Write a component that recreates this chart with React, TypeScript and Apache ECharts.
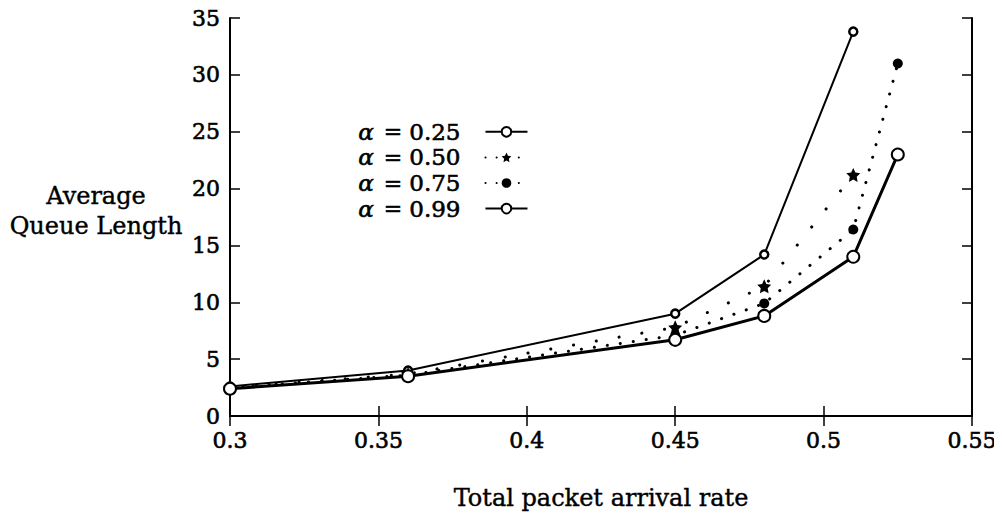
import React, { useEffect, useRef } from "react";
import * as echarts from "echarts";

const xRates = [0.3, 0.36, 0.45, 0.48, 0.51, 0.525];
const alpha025 = [2.6, 4.0, 9.0, 14.2, 33.8];
const alpha050 = [2.5, 3.7, 7.8, 11.4, 21.2];
const alpha075 = [2.5, 3.6, 7.1, 9.9, 16.4, 31.0];
const alpha099 = [2.4, 3.5, 6.7, 8.8, 14.0, 23.0];
const seriesNames = ["0.25", "0.50", "0.75", "0.99"];
const xTicks = [0.3, 0.35, 0.4, 0.45, 0.5, 0.55];
const yTicks = [0, 5, 10, 15, 20, 25, 30, 35];
const yNameLines = ["Average", "Queue Length"];

const FONT = "DejaVu Serif";
const STAR =
  "path://M0,-10 L2.9,-4 L9.5,-3.1 L4.7,1.5 L5.9,8.1 L0,5 L-5.9,8.1 L-4.7,1.5 L-9.5,-3.1 L-2.9,-4 Z";

const heavy = { textBorderColor: "#000", textBorderWidth: 0.6 };

function pairs(vals: number[]) {
  return vals.map((v, i) => [xRates[i], v]);
}

export default function App() {
  const ref = useRef<HTMLDivElement>(null);
  useEffect(() => {
    if (!ref.current) return;
    const chart = echarts.init(ref.current, null, { renderer: "svg" });
    const axisCommon = {
      axisLine: { show: true, lineStyle: { color: "#000", width: 2 } },
      axisTick: { show: true, inside: true, length: 10, lineStyle: { color: "#000", width: 1.5 } },
      splitLine: { show: false },
    };
    const xBase = {
      type: "value",
      min: xTicks[0],
      max: xTicks[xTicks.length - 1],
      interval: 0.05,
      ...axisCommon,
    };
    const yBase = {
      type: "value",
      min: yTicks[0],
      max: yTicks[yTicks.length - 1],
      interval: 5,
      ...axisCommon,
    };
    chart.setOption({
      animation: false,
      backgroundColor: "#fff",
      grid: { left: 230, right: 30, top: 18, bottom: 104, containLabel: false },
      xAxis: [
        {
          ...xBase,
          position: "bottom",
          name: "Total packet arrival rate",
          nameLocation: "middle",
          nameGap: 70,
          nameTextStyle: { fontFamily: FONT, fontSize: 24, color: "#000", ...heavy, textBorderWidth: 0.4 },
          axisLabel: {
            margin: 13,
            fontFamily: FONT,
            fontSize: 22,
            color: "#000",
            ...heavy,
            formatter: (v: number) => String(+v.toFixed(2)),
          },
        },
        { ...xBase, position: "top", axisLabel: { show: false } },
      ],
      yAxis: [
        {
          ...yBase,
          position: "left",
          axisLabel: { margin: 10, fontFamily: FONT, fontSize: 22, color: "#000", ...heavy },
        },
        { ...yBase, position: "right", axisLabel: { show: false } },
      ],
      legend: {
        orient: "vertical",
        left: 358,
        top: 120,
        align: "right",
        itemWidth: 42,
        itemHeight: 12,
        itemGap: 2,
        padding: 0,
        data: [
          { name: seriesNames[0] },
          { name: seriesNames[1], lineStyle: { type: [0.1, 11] } },
          { name: seriesNames[2], lineStyle: { type: [0.1, 11] } },
          { name: seriesNames[3] },
        ],
        formatter: (name: string) => `{a|α}{b|=}{c|${name}}`,
        textStyle: {
          fontFamily: FONT,
          fontSize: 22,
          lineHeight: 22,
          color: "#000",
          padding: [0, 20, 0, 0],
          rich: {
            a: { fontFamily: FONT, fontStyle: "italic", fontSize: 23, lineHeight: 22, color: "#000", ...heavy },
            b: { fontFamily: FONT, fontSize: 22, lineHeight: 22, color: "#000", padding: [0, 7, 0, 10], ...heavy },
            c: { fontFamily: FONT, fontSize: 23, lineHeight: 22, color: "#000", ...heavy },
          },
        },
      },
      graphic: yNameLines.map((t, i) => ({
        type: "text",
        x: 96,
        y: 196 + i * 30,
        style: {
          text: t,
          fontFamily: FONT,
          fontSize: 24,
          fill: "#000",
          align: "center",
          verticalAlign: "middle",
          stroke: "#000",
          lineWidth: 0.4,
        },
      })),
      series: [
        {
          name: seriesNames[0],
          type: "line",
          data: pairs(alpha025),
          symbol: "circle",
          symbolSize: 8,
          lineStyle: { color: "#000", width: 2 },
          itemStyle: { color: "#fff", borderColor: "#000", borderWidth: 2.5 },
          z: 3,
        },
        {
          name: seriesNames[1],
          type: "line",
          data: pairs(alpha050),
          symbol: STAR,
          symbolSize: 14,
          lineStyle: { color: "#000", width: 3, type: [0.1, 23], cap: "round" },
          itemStyle: { color: "#000" },
          z: 4,
        },
        {
          name: seriesNames[2],
          type: "line",
          data: pairs(alpha075),
          symbol: "circle",
          symbolSize: 10,
          lineStyle: { color: "#000", width: 3, type: [0.1, 13], cap: "round" },
          itemStyle: { color: "#000" },
          z: 3,
        },
        {
          name: seriesNames[3],
          type: "line",
          data: pairs(alpha099),
          symbol: "circle",
          symbolSize: 12,
          lineStyle: { color: "#000", width: 3 },
          itemStyle: { color: "#fff", borderColor: "#000", borderWidth: 2 },
          z: 5,
        },
      ],
    });
    return () => chart.dispose();
  }, []);
  return <div ref={ref} style={{ width: 1002, height: 520, margin: -8 }} />;
}
